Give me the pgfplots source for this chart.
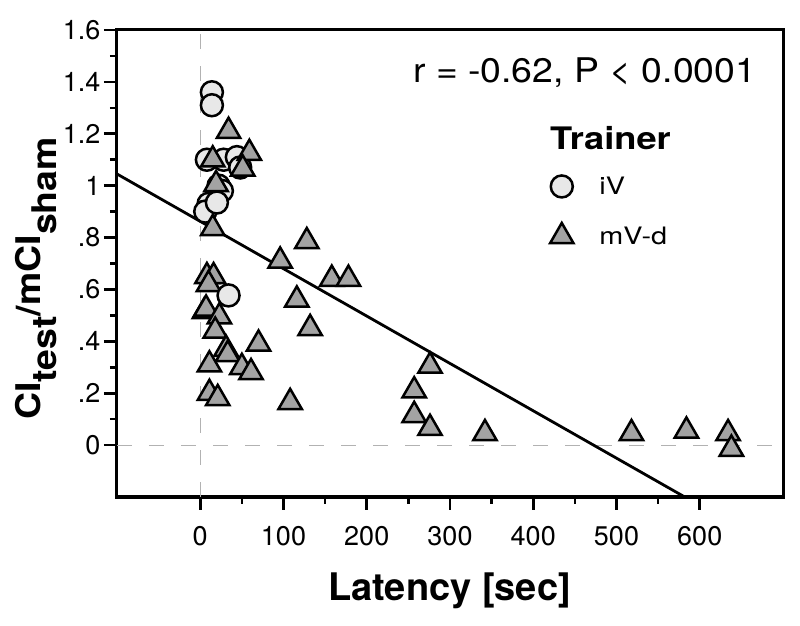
\documentclass[border=0pt]{standalone}
\usepackage{fontspec}
\setmainfont{TeX Gyre Heros}
\usepackage{pgfplots}
\pgfplotsset{compat=1.18}
\usepackage{graphicx}

\definecolor{triFill}{gray}{0.64}
\definecolor{cirFill}{gray}{0.91}
\definecolor{refGray}{gray}{0.70}

\newcommand\fs[1]{\fontsize{#1bp}{#1bp}\selectfont}

\begin{document}
\begin{tikzpicture}
\useasboundingbox (-117bp,-129bp) rectangle (683bp,497bp);
\begin{axis}[
  at={(0,0)}, anchor=south west,
  scale only axis, width=666bp, height=467bp,
  xmin=-100, xmax=700, ymin=-0.2, ymax=1.6,
  axis line style={line width=3bp},
  xtick={0,100,...,600},
  minor xtick={50,150,...,550},
  ytick={0,0.2,0.4,0.6,0.8,1,1.2,1.4,1.6},
  yticklabels={0,.2,.4,.6,.8,1,1.2,1.4,1.6},
  minor ytick={0.1,0.3,0.5,0.7,0.9,1.1,1.3,1.5},
  tick pos=left,
  tick align=outside,
  major tick length=13bp, minor tick length=7bp,
  every tick/.style={black, line width=2.6bp},
  ticklabel style={font=\fs{27}},
  xticklabel style={yshift=-13bp},
  /pgf/number format/assume math mode=true,
  legend style={at={(axis cs:420,1.042)}, anchor=north west, draw=none, fill=none,
    inner sep=0pt, row sep=25bp, column sep=24bp, font=\fs{24}},
  legend cell align=left,
  legend image code/.code={\draw[#1] plot[only marks] coordinates {(0bp,0bp)};},
]
% reference lines
\addplot[refGray, line width=1.2bp, dash pattern=on 15bp off 17bp, forget plot]
  coordinates {(-100,0) (700,0)};
\addplot[refGray, line width=1.2bp, dash pattern=on 15bp off 17bp, forget plot]
  coordinates {(0,-0.2) (0,1.6)};

% iV
\addplot[only marks, mark=*, mark size=11bp,
  mark options={fill=cirFill, draw=black, line width=2.5bp}]
  coordinates {
  (14,1.36) (14,1.31) (8,1.10) (28,1.10) (44,1.11) (48,1.07)
  (22,1.00) (26,0.98) (10,0.93) (6,0.90)
  };
\addlegendentry{\scalebox{1.2}[1]{iV}}

% mV-d
\addplot[only marks, mark=triangle*, mark size=13.5bp,
  mark options={fill=triFill, draw=black, line width=2.5bp}]
  coordinates {
  (34,1.21) (59,1.125) (15,1.10) (51,1.065) (19,1.005) (15,0.835)
  (128,0.785) (96,0.71) (158,0.64) (178,0.64)
  (8,0.65) (16,0.65) (10,0.62) (116,0.56)
  (5,0.515) (7,0.525) (23,0.495) (18,0.44) (132,0.45)
  (31,0.37) (33,0.35) (70,0.39) (11,0.31) (50,0.30) (61,0.28)
  (11,0.20) (21,0.18) (108,0.165)
  (276,0.305) (257,0.21) (257,0.115) (276,0.065)
  (342,0.045) (518,0.045) (584,0.055) (634,0.045) (638,-0.015)
  };
\addlegendentry{\scalebox{1.2}[1]{mV-d}}

% iV points drawn on top
\addplot[only marks, mark=*, mark size=11bp, forget plot,
  mark options={fill=cirFill, draw=black, line width=2.5bp}]
  coordinates {(20,0.935) (34,0.577)};

% regression line
\addplot[black, line width=2.8bp, forget plot]
  coordinates {(-100,1.045) (582,-0.2)};
\end{axis}

\node[anchor=base, inner sep=0] at (332.5bp,-103bp)
  {\fs{38}\bfseries Latency [sec]};
\node[rotate=90, anchor=base, inner sep=0] at (-76bp,218.5bp)
  {\fs{34}\bfseries\scalebox{1.1}[1]{CI\raisebox{-0.45em}{test}/mCI\raisebox{-0.45em}{sham}}};
\node[anchor=base west, inner sep=0] at (296bp,414.3bp)
  {\fs{34}\scalebox{1.1}[1]{r = -0.62, P < 0.0001}};
\node[anchor=base west, inner sep=0] at (433bp,347bp)
  {\fs{31}\bfseries\scalebox{1.17}[1]{Trainer}};
\end{tikzpicture}
\end{document}
